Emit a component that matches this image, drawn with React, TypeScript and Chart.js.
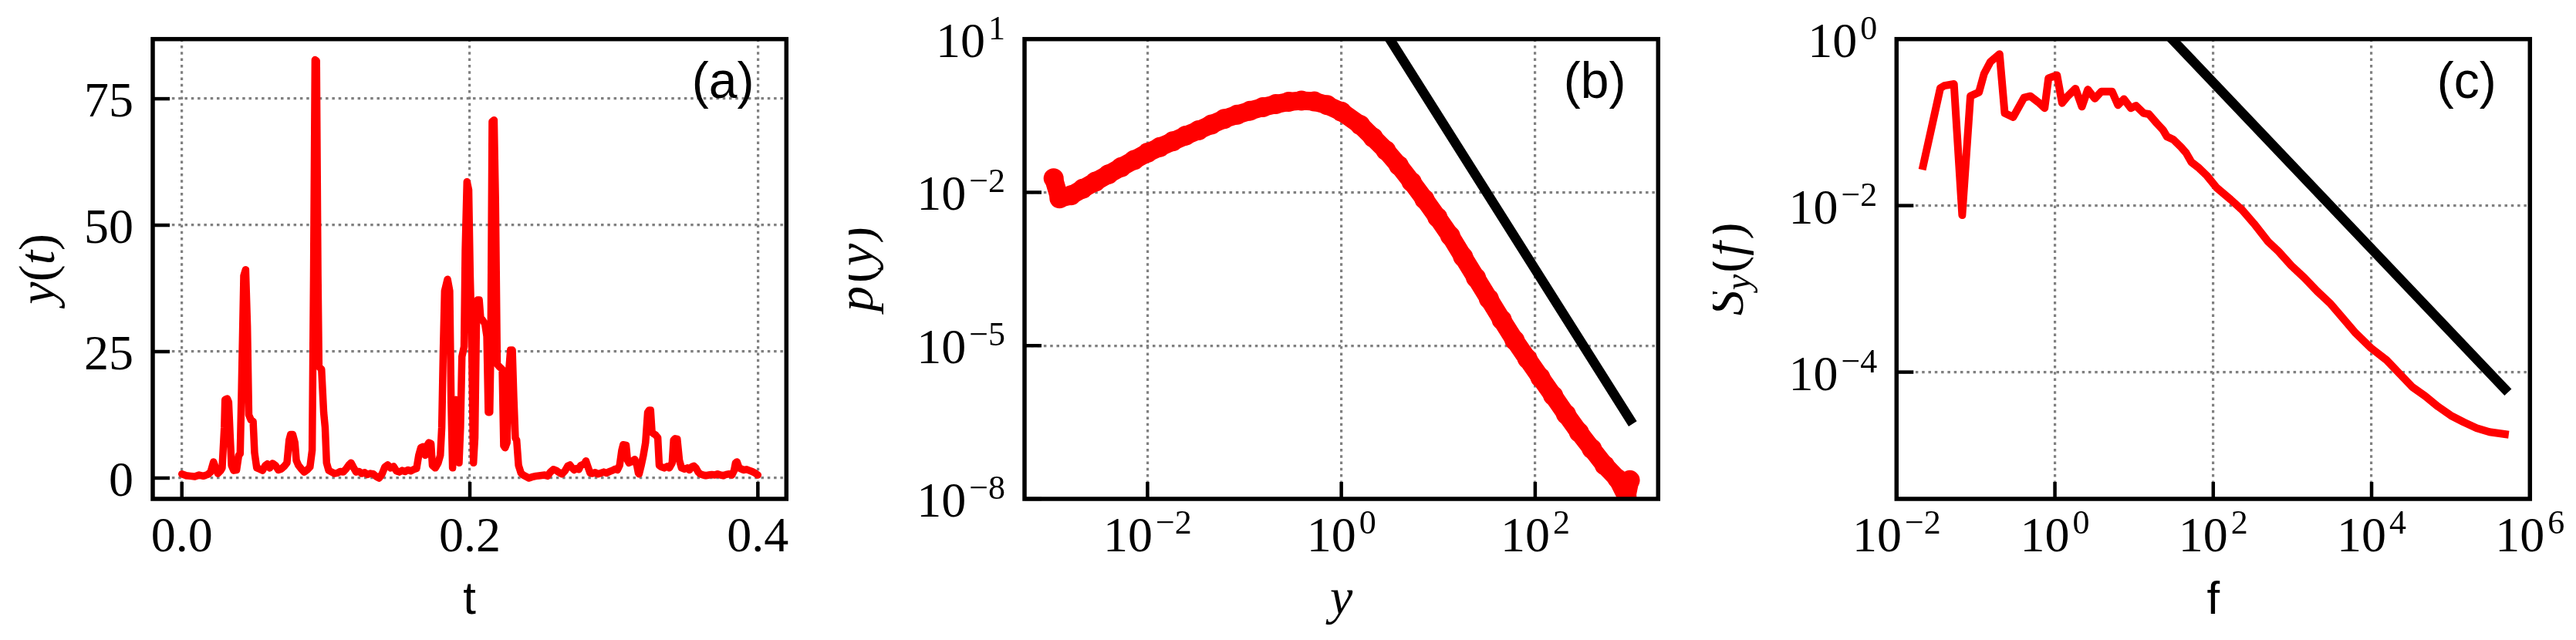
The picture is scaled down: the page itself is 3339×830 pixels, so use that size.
import { useEffect, useRef } from 'react';
import { Chart, registerables } from 'chart.js';

Chart.register(...registerables);

// ---------- Panel (a): time series y(t) ----------
const timeT = [
  0.000, 0.003, 0.006, 0.009, 0.012, 0.015, 0.018, 0.020, 0.022, 0.0235,
  0.025, 0.027, 0.028, 0.0295, 0.030, 0.0315, 0.0325, 0.0335, 0.0345, 0.036,
  0.038, 0.0395, 0.0405, 0.0415, 0.043, 0.0443, 0.0455, 0.0465, 0.048, 0.0495,
  0.0505, 0.052, 0.054, 0.056, 0.058, 0.0595, 0.061, 0.063, 0.065, 0.067,
  0.069, 0.071, 0.073, 0.0745, 0.0755, 0.077, 0.0785, 0.0795, 0.081, 0.083,
  0.085, 0.087, 0.089, 0.0905, 0.0915, 0.0925, 0.0935, 0.0945, 0.0952, 0.097,
  0.0985, 0.0995, 0.1005, 0.102, 0.104, 0.106, 0.108, 0.110, 0.112, 0.114,
  0.116, 0.1175, 0.119, 0.121, 0.123, 0.125, 0.127, 0.129, 0.131, 0.133,
  0.135, 0.137, 0.139, 0.141, 0.143, 0.145, 0.147, 0.149, 0.151, 0.153,
  0.155, 0.157, 0.159, 0.161, 0.163, 0.1645, 0.166, 0.1675, 0.169, 0.1705,
  0.1715, 0.173, 0.174, 0.176, 0.178, 0.1795, 0.1805, 0.1815, 0.1825, 0.1845,
  0.186, 0.187, 0.188, 0.1895, 0.1905, 0.1915, 0.1925, 0.1935, 0.1945, 0.196,
  0.1968, 0.198, 0.1992, 0.2002, 0.2012, 0.2025, 0.2035, 0.2045, 0.2055, 0.2065,
  0.2075, 0.2087, 0.2105, 0.2118, 0.2128, 0.2138, 0.2145, 0.2155, 0.2168, 0.2178,
  0.219, 0.2205, 0.2225, 0.2235, 0.2245, 0.2258, 0.2268, 0.2282, 0.2295, 0.2305,
  0.2316, 0.2325, 0.2338, 0.2355, 0.237, 0.239, 0.241, 0.243, 0.246, 0.249,
  0.252, 0.254, 0.256, 0.258, 0.260, 0.262, 0.264, 0.266, 0.268, 0.2695,
  0.271, 0.2725, 0.274, 0.2757, 0.277, 0.2795, 0.2806, 0.282, 0.2835, 0.285,
  0.287, 0.289, 0.291, 0.293, 0.295, 0.297, 0.299, 0.301, 0.3025, 0.304,
  0.3055, 0.3065, 0.3085, 0.3095, 0.3105, 0.312, 0.3135, 0.3145, 0.316, 0.317,
  0.3175, 0.319, 0.3205, 0.322, 0.3235, 0.3245, 0.3255, 0.3265, 0.3275, 0.329,
  0.3305, 0.3315, 0.333, 0.335, 0.337, 0.3385, 0.3405, 0.3415, 0.3425, 0.344,
  0.3455, 0.347, 0.349, 0.351, 0.3525, 0.354, 0.3555, 0.357, 0.3585, 0.360,
  0.362, 0.364, 0.366, 0.368, 0.370, 0.372, 0.374, 0.376, 0.378, 0.380,
  0.382, 0.3835, 0.3845, 0.3855, 0.387, 0.3885, 0.390, 0.392, 0.394, 0.396,
  0.398, 0.400,
];
const timeY = [
  0.8, 0.5, 0.4, 0.3, 0.6, 0.4, 0.7, 1.2, 3.2, 2.0,
  0.9, 1.5, 2.0, 10, 15.5, 15.7, 15, 8.5, 2.5, 1.5,
  1.6, 4.5, 4.8, 18, 40, 41.2, 30, 12.5, 11.5, 11.2,
  5, 2.0, 1.8, 1.5, 2.5, 2.8, 2.0, 2.9, 2.5, 1.6,
  1.8, 2.3, 3.0, 7.5, 8.6, 8.6, 7.0, 3.5, 2.5, 1.8,
  1.2, 1.6, 2.2, 5.5, 40, 82.7, 82.5, 40, 22, 21.5,
  13, 10, 3, 1.5, 1.2, 0.9, 1.0, 1.3, 1.2, 1.8,
  2.6, 3.0, 2.2, 1.2, 1.3, 0.9, 1.1, 0.7, 0.9, 0.8,
  0.3, 0.0, 0.8, 2.2, 2.6, 2.0, 2.3, 1.4, 1.2, 1.5,
  1.3, 1.6, 1.4, 1.7, 1.9, 4.5, 6.0, 6.2, 4.5, 6.5,
  7.0, 6.8, 2.5, 2.0, 3.0, 4.5, 10, 25, 37, 39.3,
  37, 15, 2.0, 15.3, 15.5, 12, 3.0, 10, 24, 26,
  45, 58.6, 57, 40, 29, 3.0, 8, 30, 35.2, 35.2,
  31.5, 31.3, 30.5, 28, 13, 13, 25, 70.5, 70.8, 55,
  22.5, 22, 21.5, 6.4, 6.0, 7.0, 20, 25.3, 25.3, 16,
  7.9, 7.5, 2.5, 1.0, 0.6, 0.3, 0.0, 0.2, 0.4, 0.5,
  0.6, 0.4, 1.2, 1.7, 1.5, 1.1, 0.8, 1.4, 2.4, 2.6,
  2.0, 1.6, 1.9, 1.7, 2.5, 2.8, 3.4, 2.2, 1.0, 0.9,
  1.1, 0.8, 1.0, 1.2, 1.0, 1.3, 1.5, 1.8, 1.6, 2.5,
  5.5, 6.6, 6.5, 3.5, 3.0, 3.2, 3.5, 3.7, 2.5, 1.0,
  0.8, 2.5, 4.5, 7.0, 13, 13.4, 13.4, 9.0, 8.8, 8.5,
  8.0, 2.5, 2.2, 2.0, 2.3, 2.0, 3.0, 7.5, 7.8, 7.7,
  3.5, 2.0, 1.8, 2.0, 1.6, 2.2, 2.4, 2.0, 1.2, 0.8,
  0.6, 0.5, 0.6, 0.7, 0.6, 0.8, 0.6, 0.5, 0.7, 0.8,
  0.6, 1.5, 3.0, 3.2, 2.0, 1.8, 1.6, 1.7, 1.5, 1.3,
  1.0, 0.6,
];
const timeTicksX = [0, 0.2, 0.4];
const timeTicksY = [0, 25, 50, 75];

// ---------- Panel (b): distribution p(y) ----------
const pdfY = [
  1.074e-3, 1.236e-3, 1.626e-3, 2.143e-3, 2.904e-3, 3.945e-3, 5.358e-3, 7.278e-3, 1.0e-2, 1.340e-2,
  1.820e-2, 2.472e-2, 3.357e-2, 4.560e-2, 6.180e-2, 8.395e-2, 0.1140, 0.1549, 0.2104, 0.2858,
  0.3873, 0.5260, 0.7145, 1.0, 1.563, 2.123, 2.877, 3.908, 5.309, 7.211,
  9.795, 13.30, 18.03, 24.49, 33.27, 45.19, 61.38, 83.18, 113.0, 153.5,
  208.4, 283.1, 383.7, 521.2, 707.9, 877.0, 948.4,
];
const pdfP = [
  1.888e-2, 7.638e-3, 8.730e-3, 1.175e-2, 1.626e-2, 2.249e-2, 3.112e-2, 4.305e-2, 5.957e-2, 7.691e-2,
  9.954e-2, 0.1288, 0.1641, 0.2123, 0.2742, 0.3311, 0.3954, 0.4645, 0.5321, 0.5929,
  0.6252, 0.6012, 0.5105, 0.3802, 0.2094, 0.1186, 6.637e-2, 3.373e-2, 1.603e-2, 7.328e-3,
  3.258e-3, 1.409e-3, 5.470e-4, 2.123e-4, 8.241e-5, 3.199e-5, 1.276e-5, 5.521e-6, 2.388e-6, 1.047e-6,
  4.529e-7, 2.014e-7, 9.572e-8, 4.550e-8, 2.477e-8, 1.102e-8, 2.317e-8,
];
const pdfGuideY = [1, 955];
const pdfGuideP = [316, 3.55e-7];
const pdfTicksX = [1e-2, 1, 1e2];
const pdfTicksY = [1e1, 1e-2, 1e-5, 1e-8];

// ---------- Panel (c): spectrum S_y(f) ----------
const specF = [
  2.163e-2, 3.573e-2, 4.000e-2, 5.309e-2, 6.745e-2, 8.570e-2, 0.1099, 0.1276, 0.1538, 0.2000,
  0.2323, 0.2972, 0.4074, 0.4909, 0.6152, 0.7413, 0.8299, 1.062, 1.233, 1.455,
  1.820, 2.193, 2.606, 3.192, 3.846, 5.272, 6.266, 7.447, 9.099, 10.57,
  13.24, 15.38, 19.28, 23.23, 26.00, 31.33, 39.17, 45.60, 52.97, 66.22,
  82.99, 110.2, 166.3, 232.8, 326.6, 493.2, 665.3, 966.1, 1406, 2046,
  2972, 4325, 6281, 9840, 15452, 22439, 32659, 47424, 69024, 100462,
  145881, 212324, 308319, 483059,
];
const specS = [
  2.992e-2, 0.2582, 0.2754, 0.2884, 7.674e-3, 0.2065, 0.2301, 0.3846, 0.5358, 0.6607,
  0.1288, 0.1156, 0.1982, 0.2065, 0.1750, 0.1483, 0.3396, 0.3690, 0.1706, 0.2065,
  0.2541, 0.1545, 0.2477, 0.1932, 0.2339, 0.2339, 0.1611, 0.1901, 0.1483, 0.1585,
  0.1288, 0.1256, 9.795e-2, 8.091e-2, 6.745e-2, 6.209e-2, 5.047e-2, 4.266e-2, 3.327e-2, 2.818e-2,
  2.291e-2, 1.644e-2, 1.180e-2, 8.831e-3, 6.081e-3, 3.698e-3, 2.831e-3, 1.905e-3, 1.365e-3, 9.397e-4,
  6.745e-4, 4.457e-4, 2.944e-4, 1.945e-4, 1.396e-4, 9.616e-5, 6.622e-5, 5.164e-5, 3.855e-5, 3.006e-5,
  2.506e-5, 2.123e-5, 1.905e-5, 1.799e-5,
];
const specGuideF = [1, 4.8e5];
const specGuideS = [30, 6.3e-5];
const specTicksX = [1e-2, 1, 1e2, 1e4, 1e6];
const specTicksY = [1, 1e-2, 1e-4];

// ---------- styling ----------
const RED = '#ff0000';
const GRID = '#808080';
const SERIF = '"Liberation Serif", "DejaVu Serif", serif';
const SANS = '"Liberation Sans", "DejaVu Sans", sans-serif';
const TICK_FONT = `64px ${SERIF}`;
const SUP_FONT = `44px ${SERIF}`;
const ITAL = `italic 66px ${SERIF}`;
const ROMAN = `66px ${SERIF}`;
const ITAL_SUB = `italic 46px ${SERIF}`;
const SANS_TITLE = `60px ${SANS}`;
const LABEL_FONT = `66px ${SANS}`;

type Run = { text: string; font: string; dy?: number; dx?: number };

function runsWidth(ctx: CanvasRenderingContext2D, runs: Run[]) {
  let w = 0;
  for (const r of runs) {
    ctx.font = r.font;
    w += ctx.measureText(r.text).width + (r.dx || 0);
  }
  return w;
}
function drawRuns(ctx: CanvasRenderingContext2D, runs: Run[], x: number, y: number) {
  let cx = x;
  for (const r of runs) {
    ctx.font = r.font;
    ctx.fillText(r.text, cx, y + (r.dy || 0));
    cx += ctx.measureText(r.text).width + (r.dx || 0);
  }
}
const plainLabel = (digits: number) => (v: number): Run[] => [{ text: v.toFixed(digits), font: TICK_FONT }];
const powLabel = (v: number): Run[] => {
  const e = Math.round(Math.log10(v));
  const exp = e < 0 ? '\u2212' + String(-e) : String(e);
  return [
    { text: '10', font: TICK_FONT, dx: 4 },
    { text: exp, font: SUP_FONT, dy: -23 },
  ];
};

type Spec = {
  label: string;
  xLabel: (v: number) => Run[];
  yLabel: (v: number) => Run[];
  xTitle: Run[];
  yTitle: Run[];
  yTitleOffset: number;
};

function decorPlugin(spec: Spec) {
  return {
    id: 'decor',
    afterDraw(chart: any) {
      const ctx: CanvasRenderingContext2D = chart.ctx;
      const a = chart.chartArea;
      const xs = chart.scales.x;
      const ys = chart.scales.y;
      ctx.save();
      // inward tick marks
      ctx.strokeStyle = '#000';
      ctx.lineWidth = 4.5;
      ctx.lineCap = 'butt';
      for (const t of xs.ticks) {
        const px = xs.getPixelForValue(t.value);
        ctx.beginPath();
        ctx.moveTo(px, a.bottom);
        ctx.lineTo(px, a.bottom - 22);
        ctx.stroke();
      }
      for (const t of ys.ticks) {
        const py = ys.getPixelForValue(t.value);
        ctx.beginPath();
        ctx.moveTo(a.left, py);
        ctx.lineTo(a.left + 22, py);
        ctx.stroke();
      }
      // frame
      ctx.lineWidth = 5.5;
      ctx.lineJoin = 'miter';
      ctx.strokeRect(a.left, a.top, a.right - a.left, a.bottom - a.top);
      // tick labels
      ctx.fillStyle = '#000';
      ctx.textAlign = 'left';
      ctx.textBaseline = 'alphabetic';
      for (const t of xs.ticks) {
        const px = xs.getPixelForValue(t.value);
        const runs = spec.xLabel(t.value);
        const w = runsWidth(ctx, runs);
        drawRuns(ctx, runs, px - w / 2, a.bottom + 68);
      }
      for (const t of ys.ticks) {
        const py = ys.getPixelForValue(t.value);
        const runs = spec.yLabel(t.value);
        const w = runsWidth(ctx, runs);
        drawRuns(ctx, runs, a.left - 25 - w, py + 23);
      }
      // x title
      const cxMid = (a.left + a.right) / 2;
      const wx = runsWidth(ctx, spec.xTitle);
      drawRuns(ctx, spec.xTitle, cxMid - wx / 2, a.bottom + 149);
      // y title (rotated)
      const cyMid = (a.top + a.bottom) / 2;
      ctx.save();
      ctx.translate(a.left + spec.yTitleOffset, cyMid);
      ctx.rotate(-Math.PI / 2);
      const wy = runsWidth(ctx, spec.yTitle);
      drawRuns(ctx, spec.yTitle, -wy / 2, 0);
      ctx.restore();
      // panel label
      const lx = a.left + 0.9 * (a.right - a.left);
      const ly = a.top + 0.1 * (a.bottom - a.top);
      const lruns: Run[] = [{ text: spec.label, font: LABEL_FONT }];
      const lw = runsWidth(ctx, lruns);
      drawRuns(ctx, lruns, lx - lw / 2, ly + 17);
      ctx.restore();
    },
  };
}

function scaleCfg(type: string, min: number, max: number, ticks: number[], axis: 'x' | 'y') {
  return {
    type,
    min,
    max,
    afterBuildTicks: (s: any) => {
      s.ticks = ticks.map((v) => ({ value: v }));
    },
    afterFit: (s: any) => {
      if (axis === 'x') s.height = 0;
      else s.width = 0;
    },
    ticks: { display: false },
    title: { display: false },
    grid: { color: GRID, lineWidth: 3.2, drawTicks: false, drawOnChartArea: true },
    border: { display: false, dash: [3.5, 4.8] },
  };
}

function pairs(xs: number[], ys: number[]) {
  return xs.map((x, i) => ({ x, y: ys[i] }));
}

function makeChart(
  canvas: HTMLCanvasElement,
  datasets: any[],
  padding: any,
  xScale: any,
  yScale: any,
  spec: Spec
) {
  return new Chart(canvas, {
    type: 'line',
    data: { datasets },
    options: {
      animation: false,
      responsive: false,
      events: [],
      layout: { padding, autoPadding: false },
      plugins: { legend: { display: false }, tooltip: { enabled: false } },
      scales: { x: xScale, y: yScale },
    } as any,
    plugins: [decorPlugin(spec) as any],
  });
}

export default function App() {
  const aRef = useRef<HTMLCanvasElement>(null);
  const bRef = useRef<HTMLCanvasElement>(null);
  const cRef = useRef<HTMLCanvasElement>(null);

  useEffect(() => {
    const charts: Chart[] = [];
    if (aRef.current) {
      charts.push(
        makeChart(
          aRef.current,
          [
            {
              data: pairs(timeT, timeY),
              borderColor: RED,
              borderWidth: 9.5,
              pointRadius: 0,
              tension: 0,
              fill: false,
              borderJoinStyle: 'round',
              borderCapStyle: 'round',
              clip: 0,
            },
          ],
          { left: 198, right: 80.7, top: 50.7, bottom: 183 },
          scaleCfg('linear', -0.0202, 0.4198, timeTicksX, 'x'),
          scaleCfg('linear', -4.12, 86.8, timeTicksY, 'y'),
          {
            label: '(a)',
            xLabel: plainLabel(1),
            yLabel: plainLabel(0),
            xTitle: [{ text: 't', font: SANS_TITLE }],
            yTitle: [
              { text: 'y', font: ITAL },
              { text: '(', font: ROMAN },
              { text: 't', font: ITAL },
              { text: ')', font: ROMAN },
            ],
            yTitleOffset: -128.3,
          }
        )
      );
    }
    if (bRef.current) {
      charts.push(
        makeChart(
          bRef.current,
          [
            {
              data: pairs(pdfY, pdfP),
              borderColor: RED,
              borderWidth: 24,
              pointRadius: 13,
              pointBorderWidth: 0,
              pointBackgroundColor: RED,
              pointBorderColor: RED,
              tension: 0,
              fill: false,
              borderJoinStyle: 'round',
              borderCapStyle: 'round',
              clip: 0,
            },
            {
              data: pairs(pdfGuideY, pdfGuideP),
              borderColor: '#000',
              borderWidth: 12.5,
              pointRadius: 0,
              tension: 0,
              fill: false,
              borderCapStyle: 'square',
              clip: 0,
            },
          ],
          { left: 228, right: 70.7, top: 50.7, bottom: 183 },
          scaleCfg('logarithmic', 5.383e-4, 1858, pdfTicksX, 'x'),
          scaleCfg('logarithmic', 1e-8, 10, pdfTicksY, 'y'),
          {
            label: '(b)',
            xLabel: powLabel,
            yLabel: powLabel,
            xTitle: [{ text: 'y', font: ITAL }],
            yTitle: [
              { text: 'p', font: ITAL, dx: 4 },
              { text: '(', font: ROMAN },
              { text: 'y', font: ITAL },
              { text: ')', font: ROMAN },
            ],
            yTitleOffset: -197,
          }
        )
      );
    }
    if (cRef.current) {
      charts.push(
        makeChart(
          cRef.current,
          [
            {
              data: pairs(specF, specS),
              borderColor: RED,
              borderWidth: 10,
              pointRadius: 0,
              tension: 0,
              fill: false,
              borderJoinStyle: 'round',
              borderCapStyle: 'square',
              clip: 0,
            },
            {
              data: pairs(specGuideF, specGuideS),
              borderColor: '#000',
              borderWidth: 12.5,
              pointRadius: 0,
              tension: 0,
              fill: false,
              borderCapStyle: 'square',
              clip: 0,
            },
          ],
          { left: 238.3, right: 59.7, top: 50.7, bottom: 183 },
          scaleCfg('logarithmic', 1e-2, 1e6, specTicksX, 'x'),
          scaleCfg('logarithmic', 3e-6, 1, specTicksY, 'y'),
          {
            label: '(c)',
            xLabel: powLabel,
            yLabel: powLabel,
            xTitle: [{ text: 'f', font: SANS_TITLE }],
            yTitle: [
              { text: 'S', font: ITAL },
              { text: 'y', font: ITAL_SUB, dy: 9, dx: 2 },
              { text: '(', font: ROMAN },
              { text: 'f', font: ITAL, dx: 3 },
              { text: ')', font: ROMAN },
            ],
            yTitleOffset: -199.3,
          }
        )
      );
    }
    return () => charts.forEach((c) => c.destroy());
  }, []);

  const cs = (left: number, width: number): any => ({
    position: 'absolute',
    left,
    top: 0,
    width,
    height: 830,
  });

  return (
    <div
      style={{
        position: 'absolute',
        left: 0,
        top: 0,
        width: 3339,
        height: 830,
        background: '#ffffff',
        overflow: 'hidden',
      }}
    >
      <canvas ref={aRef} width={1100} height={830} style={cs(0, 1100)} />
      <canvas ref={bRef} width={1120} height={830} style={cs(1100, 1120)} />
      <canvas ref={cRef} width={1119} height={830} style={cs(2220, 1119)} />
    </div>
  );
}
